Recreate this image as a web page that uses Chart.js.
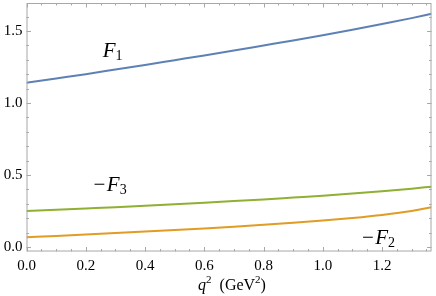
<!DOCTYPE html>
<html>
<head>
<meta charset="utf-8">
<script src="https://cdn.jsdelivr.net/npm/chart.js@4.4.1/dist/chart.umd.min.js"></script>
<style>
  body { margin: 0; background: #fff; }
  canvas { display: block; }
</style>
</head>
<body>
<canvas id="c" width="436" height="296"></canvas>
<script>
// q^2 grid (GeV^2) and the three form factors
const q2 = [0, 0.1, 0.2, 0.3, 0.4, 0.5, 0.6, 0.7, 0.8, 0.9, 1.0, 1.1, 1.2, 1.3, 1.367];
const F1 = [1.140, 1.170, 1.200, 1.232, 1.264, 1.297, 1.330, 1.364, 1.399, 1.434, 1.470, 1.508, 1.548, 1.589, 1.619];
const minusF3 = [0.250, 0.259, 0.268, 0.277, 0.287, 0.297, 0.308, 0.319, 0.330, 0.343, 0.356, 0.371, 0.387, 0.405, 0.419];
const minusF2 = [0.068, 0.077, 0.087, 0.097, 0.107, 0.118, 0.129, 0.141, 0.154, 0.168, 0.184, 0.202, 0.223, 0.250, 0.276];

const xTicks = [0, 0.2, 0.4, 0.6, 0.8, 1.0, 1.2];
const yTicks = [0, 0.5, 1.0, 1.5];

// curve labels: subscript, leading minus, anchor (x, baseline y) in data units
const curveLabels = [
  { sub: '1', minus: false, x: 0.257, y: 1.319 },
  { sub: '3', minus: true, x: 0.226, y: 0.391 },
  { sub: '2', minus: true, x: 1.132, y: 0.021 }
];

const serif = '"Liberation Serif", "Times New Roman", serif';
const frameColor = '#a8a8a8';

function pts(ys) {
  return q2.map((x, i) => ({ x: x, y: ys[i] }));
}

const frame = {
  id: 'frame',
  afterDraw(chart) {
    const ctx = chart.ctx, a = chart.chartArea;
    const sx = chart.scales.x, sy = chart.scales.y;
    ctx.save();
    ctx.strokeStyle = frameColor;
    ctx.lineWidth = 1;
    ctx.strokeRect(a.left + 0.5, a.top + 0.5, a.right - a.left - 1, a.bottom - a.top - 1);

    ctx.beginPath();
    for (let k = 0; k <= 27; k++) {
      const v = k * 0.05;
      if (v > sx.max) break;
      const len = (k % 4 === 0) ? 4.5 : 2.5;
      const px = Math.round(sx.getPixelForValue(v)) + 0.5;
      ctx.moveTo(px, a.bottom); ctx.lineTo(px, a.bottom - len);
      ctx.moveTo(px, a.top); ctx.lineTo(px, a.top + len);
    }
    for (let k = 0; k <= 16; k++) {
      const v = k * 0.1;
      const len = (k % 5 === 0) ? 4.5 : 2.5;
      const py = Math.round(sy.getPixelForValue(v)) + 0.5;
      ctx.moveTo(a.left, py); ctx.lineTo(a.left + len, py);
      ctx.moveTo(a.right, py); ctx.lineTo(a.right - len, py);
    }
    ctx.stroke();

    // curve labels
    ctx.fillStyle = '#000';
    ctx.textBaseline = 'alphabetic';
    ctx.textAlign = 'left';
    curveLabels.forEach(l => {
      let px = sx.getPixelForValue(l.x);
      const py = sy.getPixelForValue(l.y);
      if (l.minus) {
        ctx.font = '21px ' + serif;
        ctx.fillText('\u2212', px, py);
        px += ctx.measureText('\u2212').width + 1.5;
      }
      ctx.font = 'italic 21px ' + serif;
      ctx.fillText('F', px, py);
      px += ctx.measureText('F').width;
      ctx.font = '14px ' + serif;
      ctx.fillText(l.sub, px, py + 3);
    });

    // axis title: q^2 (GeV^2)
    const parts = [
      { t: 'q', f: 'italic 16px ' + serif, dy: 0 },
      { t: '2', f: '11px ' + serif, dy: -7 },
      { t: '  (GeV', f: '16px ' + serif, dy: 0 },
      { t: '2', f: '11px ' + serif, dy: -7 },
      { t: ')', f: '16px ' + serif, dy: 0 }
    ];
    let w = 0;
    parts.forEach(p => { ctx.font = p.f; p.w = ctx.measureText(p.t).width; w += p.w; });
    let tx = (a.left + a.right) / 2 + 3 - w / 2;
    const ty = 290;
    parts.forEach(p => { ctx.font = p.f; ctx.fillText(p.t, tx, ty + p.dy); tx += p.w; });
    ctx.restore();
  }
};

new Chart(document.getElementById('c'), {
  type: 'line',
  data: {
    datasets: [
      { data: pts(F1), borderColor: 'rgb(94,129,181)' },
      { data: pts(minusF3), borderColor: 'rgb(143,176,50)' },
      { data: pts(minusF2), borderColor: 'rgb(224,156,36)' }
    ]
  },
  options: {
    responsive: false,
    animation: false,
    layout: { padding: { top: 3, right: 4.5, left: 0, bottom: 0 } },
    elements: {
      point: { radius: 0 },
      line: { borderWidth: 2, cubicInterpolationMode: 'monotone', fill: false }
    },
    plugins: { legend: { display: false }, tooltip: { enabled: false } },
    scales: {
      x: {
        type: 'linear',
        min: 0,
        max: 1.367,
        grid: { display: false, drawTicks: false },
        border: { display: false },
        afterBuildTicks: s => { s.ticks = xTicks.map(v => ({ value: v })); },
        afterFit: s => { s.height = 44.5; s.paddingLeft = 0; s.paddingRight = 0; },
        ticks: {
          padding: 6,
          color: '#000',
          font: { family: serif, size: 15 },
          maxRotation: 0,
          autoSkip: false,
          callback: v => v.toFixed(1)
        }
      },
      y: {
        type: 'linear',
        min: -0.031,
        max: 1.694,
        grid: { display: false, drawTicks: false },
        border: { display: false },
        afterBuildTicks: s => { s.ticks = yTicks.map(v => ({ value: v })); },
        afterFit: s => { s.width = 26.5; s.paddingTop = 0; s.paddingBottom = 0; },
        ticks: {
          padding: 4,
          color: '#000',
          font: { family: serif, size: 15 },
          autoSkip: false,
          callback: v => v.toFixed(1)
        }
      }
    }
  },
  plugins: [frame]
});
</script>
</body>
</html>
